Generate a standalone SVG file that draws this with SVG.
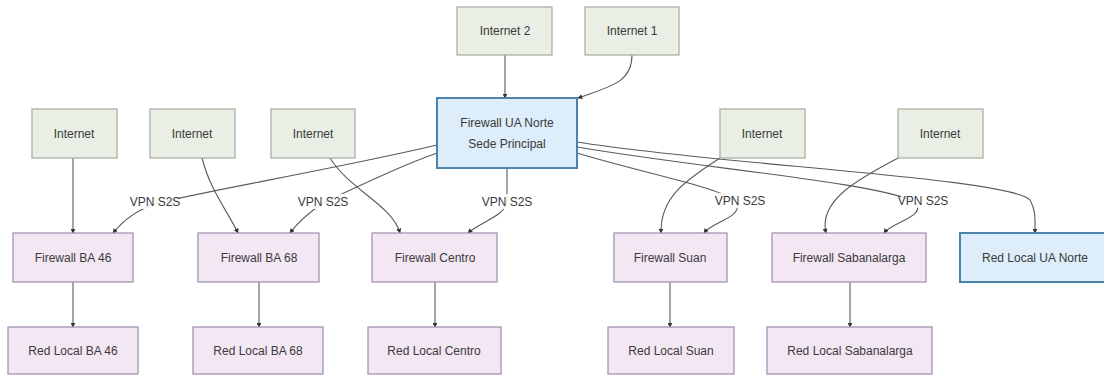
<svg xmlns="http://www.w3.org/2000/svg" width="1104" height="377" viewBox="0 0 1104 377">
<style>
.n rect{stroke-width:1.2}
.inet rect{fill:#e9efe5;stroke:#a3aa9f}
.fw rect{fill:#f3e7f4;stroke:#9d8cae}
.blue rect{fill:#ddedf9;stroke:#4b83ad;stroke-width:2}
text{font-family:"Liberation Sans",Arial,sans-serif;font-size:12px;fill:#3a3a3a;text-anchor:middle;dominant-baseline:central}
.e path{fill:none;stroke:#5a5a5a;stroke-width:1.1}
.lbl rect{fill:#ffffff;opacity:0.85}
.lbl text{font-size:12px}
</style>
<defs>
<marker id="ah" viewBox="0 0 8 8" refX="7" refY="4" markerWidth="5" markerHeight="5" orient="auto-start-reverse" markerUnits="userSpaceOnUse">
<path d="M0,0 L8,4 L0,8 z" fill="#333"/>
</marker>
</defs>
<rect width="1104" height="377" fill="#ffffff"/>
<g id="edges" class="e">
<path d="M505,55 L505,98" marker-end="url(#ah)"/>
<path d="M632,55 C632,82 612,86 578,98" marker-end="url(#ah)"/>
<path d="M437,145 C330,170 210,190 158,203 C135,210 122,222 113,233" marker-end="url(#ah)"/>
<path d="M437,153 C400,166 350,190 323,203 C310,212 298,222 290,233" marker-end="url(#ah)"/>
<path d="M507,168 L507,202 C505,216 480,222 468,233" marker-end="url(#ah)"/>
<path d="M577,153 C650,175 725,188 737,203 C742,218 712,222 704,233" marker-end="url(#ah)"/>
<path d="M577,147 C700,168 880,183 915,202 C928,216 892,222 884,233" marker-end="url(#ah)"/>
<path d="M577,142 C720,165 1010,178 1030,200 C1036,210 1035,220 1035,233" marker-end="url(#ah)"/>
<path d="M720,158 C690,178 660,195 661,233" marker-end="url(#ah)"/>
<path d="M898,158 C860,178 818,200 826,233" marker-end="url(#ah)"/>
<path d="M73,158 L73,233" marker-end="url(#ah)"/>
<path d="M202,158 C210,190 228,212 238,233" marker-end="url(#ah)"/>
<path d="M330,158 C350,190 392,205 400,233" marker-end="url(#ah)"/>
<path d="M73,282 L73,327" marker-end="url(#ah)"/>
<path d="M259,282 L259,327" marker-end="url(#ah)"/>
<path d="M435,282 L435,327" marker-end="url(#ah)"/>
<path d="M670,282 L670,327" marker-end="url(#ah)"/>
<path d="M850,282 L850,327" marker-end="url(#ah)"/>
<g class="lbl">
<rect x="133" y="194" width="45" height="15"/><text x="155" y="202">VPN S2S</text>
<rect x="301" y="194" width="45" height="15"/><text x="323" y="202">VPN S2S</text>
<rect x="485" y="194" width="45" height="15"/><text x="507" y="202">VPN S2S</text>
<rect x="718" y="193" width="45" height="15"/><text x="740" y="201">VPN S2S</text>
<rect x="901" y="193" width="45" height="15"/><text x="923" y="201">VPN S2S</text>
</g>
</g>
<g id="internet2" class="n inet"><rect x="457" y="7" width="95" height="48"/><text x="505" y="31">Internet 2</text></g>
<g id="internet1" class="n inet"><rect x="585" y="7" width="94" height="48"/><text x="632" y="31">Internet 1</text></g>
<g id="fwUANorte" class="n blue"><rect x="437" y="98" width="140" height="70"/><text x="507" y="123">Firewall UA Norte</text><text x="507" y="144">Sede Principal</text></g>
<g id="inetBA46" class="n inet"><rect x="32" y="109" width="85" height="49"/><text x="74" y="134">Internet</text></g>
<g id="inetBA68" class="n inet"><rect x="150" y="109" width="85" height="49"/><text x="192" y="134">Internet</text></g>
<g id="inetCentro" class="n inet"><rect x="271" y="109" width="84" height="49"/><text x="313" y="134">Internet</text></g>
<g id="inetSuan" class="n inet"><rect x="720" y="109" width="85" height="49"/><text x="762" y="134">Internet</text></g>
<g id="inetSaban" class="n inet"><rect x="898" y="109" width="85" height="49"/><text x="940" y="134">Internet</text></g>
<g id="fwBA46" class="n fw"><rect x="13" y="233" width="120" height="49"/><text x="73" y="258">Firewall BA 46</text></g>
<g id="fwBA68" class="n fw"><rect x="198" y="233" width="121" height="49"/><text x="259" y="258">Firewall BA 68</text></g>
<g id="fwCentro" class="n fw"><rect x="372" y="233" width="125" height="49"/><text x="435" y="258">Firewall Centro</text></g>
<g id="fwSuan" class="n fw"><rect x="614" y="233" width="113" height="49"/><text x="670" y="258">Firewall Suan</text></g>
<g id="fwSaban" class="n fw"><rect x="772" y="233" width="154" height="49"/><text x="849" y="258">Firewall Sabanalarga</text></g>
<g id="redUANorte" class="n blue"><rect x="960" y="233" width="150" height="49"/><text x="1035" y="258">Red Local UA Norte</text></g>
<g id="redBA46" class="n fw"><rect x="8" y="327" width="130" height="47"/><text x="73" y="351">Red Local BA 46</text></g>
<g id="redBA68" class="n fw"><rect x="193" y="327" width="130" height="47"/><text x="258" y="351">Red Local BA 68</text></g>
<g id="redCentro" class="n fw"><rect x="368" y="327" width="133" height="47"/><text x="434" y="351">Red Local Centro</text></g>
<g id="redSuan" class="n fw"><rect x="608" y="327" width="126" height="47"/><text x="671" y="351">Red Local Suan</text></g>
<g id="redSaban" class="n fw"><rect x="767" y="327" width="165" height="47"/><text x="850" y="351">Red Local Sabanalarga</text></g>
</svg>
